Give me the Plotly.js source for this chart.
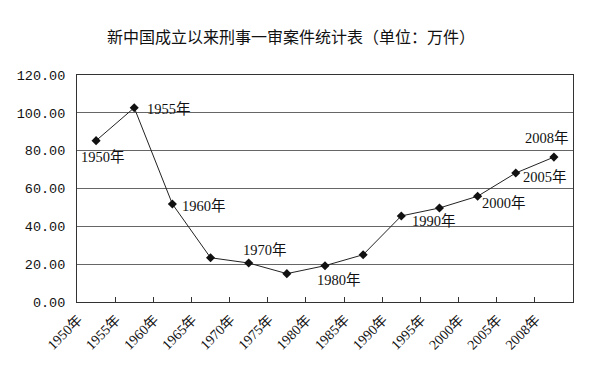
<!DOCTYPE html>
<html>
<head>
<meta charset="utf-8">
<script src="https://cdn.plot.ly/plotly-3.0.1.min.js"></script>
<style>html,body{margin:0;padding:0;background:#fff;}#chart{width:600px;height:375px;}</style>
</head>
<body>
<div id="chart"></div>
<script>
// Data
const categories = ["1950年","1955年","1960年","1965年","1970年","1975年","1980年","1985年","1990年","1995年","2000年","2005年","2008年"];
const cases = [85.3, 102.7, 51.8, 23.4, 20.6, 15.0, 19.2, 25.0, 45.5, 49.7, 55.9, 68.2, 76.6];
const yTickValues = [0, 20, 40, 60, 80, 100, 120];
const labeledYears = ["1950年","1955年","1960年","1970年","1980年","1990年","2000年","2005年","2008年"];

// label offsets (style, pixels)
const labelOffsets = {
  "1950年": [7, -16], "1955年": [35, -1], "1960年": [32, -2], "1970年": [16, 13],
  "1980年": [14, -14], "1990年": [33, -5], "2000年": [26, -7], "2005年": [29, -4], "2008年": [-7, 19]
};

const serif = "Liberation Serif, 'Noto Sans CJK SC', serif";

const annotations = labeledYears.map(function (yr) {
  const i = categories.indexOf(yr);
  const off = labelOffsets[yr];
  return {
    x: yr, y: cases[i], xref: "x", yref: "y",
    text: yr, showarrow: false,
    xshift: off[0], yshift: off[1],
    font: {family: serif, size: 14.5, color: "#111"}
  };
});

const trace = {
  x: categories, y: cases, type: "scatter", mode: "lines+markers",
  line: {color: "#222", width: 1},
  marker: {symbol: "diamond", size: 7, color: "#111"},
  hoverinfo: "skip"
};

const layout = {
  width: 600, height: 375,
  margin: {l: 77, r: 27, t: 75, b: 73},
  paper_bgcolor: "#fff", plot_bgcolor: "#fff",
  showlegend: false,
  title: {
    text: "新中国成立以来刑事一审案件统计表（单位：万件）",
    x: 0.485, xanchor: "center", y: 0.9, yanchor: "middle",
    font: {family: "'Noto Sans CJK SC', sans-serif", size: 16, color: "#111"}
  },
  xaxis: {
    type: "category",
    categoryorder: "array", categoryarray: categories,
    range: [-0.5, 12.5],
    showline: true, linecolor: "#333", linewidth: 1, mirror: true,
    showgrid: false, zeroline: false,
    ticks: "inside", ticklen: 5, tickcolor: "#333", tickson: "boundaries",
    tickangle: -45, ticklabelshift: -18, ticklabelstandoff: 3,
    tickfont: {family: serif, size: 14, color: "#111"}
  },
  yaxis: {
    range: [0, 120],
    tickvals: yTickValues, tickformat: ".2f",
    showline: true, linecolor: "#333", linewidth: 1, mirror: true,
    showgrid: true, gridcolor: "#666", gridwidth: 1, zeroline: false,
    ticks: "", ticklabelstandoff: 8,
    tickfont: {family: "Liberation Mono, monospace", size: 13.5, color: "#111"}
  },
  annotations: annotations
};

Plotly.newPlot("chart", [trace], layout, {staticPlot: true, displayModeBar: false});
</script>
</body>
</html>
